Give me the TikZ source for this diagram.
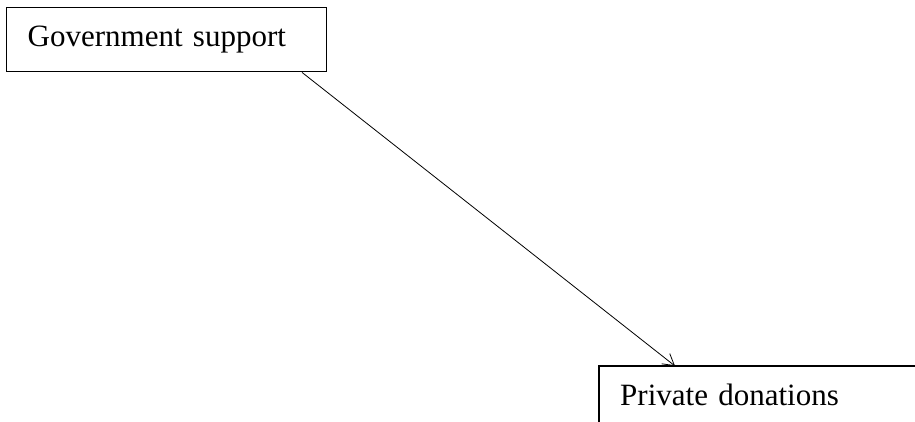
\documentclass[tikz,border=0pt]{standalone}
\usepackage{fontspec}
\setmainfont{Liberation Serif}
\usetikzlibrary{arrows.meta,calc}
\begin{document}
\begin{tikzpicture}[x=1pt,y=1pt,
  boxtext/.style={rectangle, anchor=north west, inner xsep=21pt, inner ysep=0pt,
    text height=39pt, text depth=25pt, align=left, font=\fontsize{31pt}{36pt}\selectfont},
  box/.style={boxtext, draw, line width=1.4pt},
  edge/.style={line width=1.4pt, line cap=rect},
  conn/.style={line width=0.8pt, -{Straight Barb[length=11pt,width=13pt,line width=0.8pt]}}]
\useasboundingbox (0,0) rectangle (915,422);
\node[box, text width=278pt] (g) at (6,415) {Government support};
\node[boxtext, text width=274pt] (p) at (599,56) {Private donations};
\draw[edge] (p.south west) -- (p.north west) -- (p.north east);
\draw[conn] ([xshift=296pt]g.south west) -- ([xshift=76pt]p.north west);
\end{tikzpicture}
\end{document}
